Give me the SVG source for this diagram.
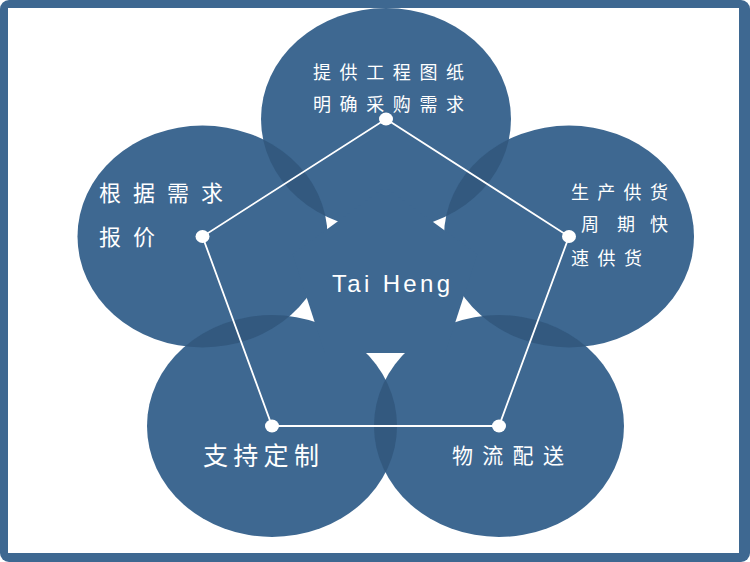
<svg xmlns="http://www.w3.org/2000/svg" width="750" height="562" viewBox="0 0 750 562">
<style>
.blob{fill:#3e6891}
.lens{fill:#33597f}
.lbl{fill:#ffffff;font-family:"Noto Sans CJK SC","Noto Sans",sans-serif}
.dot{fill:#ffffff}
.edge{stroke:#ffffff;stroke-width:1.8;fill:none}
</style>
<defs>
<clipPath id="cTop"><ellipse cx="386" cy="119" rx="125" ry="111"/></clipPath>
<clipPath id="cLeft"><ellipse cx="202.5" cy="236.5" rx="125" ry="111"/></clipPath>
<clipPath id="cRight"><ellipse cx="569" cy="236.5" rx="125" ry="111"/></clipPath>
<clipPath id="cBL"><ellipse cx="272" cy="426" rx="125" ry="111"/></clipPath>
</defs>
<rect x="0" y="0" width="750" height="562" rx="9" fill="#3e6891"/>
<rect x="8" y="8" width="731" height="545" fill="#ffffff"/>
<g id="shapes">
<ellipse class="blob" cx="386" cy="119" rx="125" ry="111"/>
<ellipse class="blob" cx="202.5" cy="236.5" rx="125" ry="111"/>
<ellipse class="blob" cx="569" cy="236.5" rx="125" ry="111"/>
<ellipse class="blob" cx="272" cy="426" rx="125" ry="111"/>
<ellipse class="blob" cx="499" cy="426" rx="125" ry="111"/>
<ellipse class="lens" cx="202.5" cy="236.5" rx="125" ry="111" clip-path="url(#cTop)"/>
<ellipse class="lens" cx="569" cy="236.5" rx="125" ry="111" clip-path="url(#cTop)"/>
<ellipse class="lens" cx="272" cy="426" rx="125" ry="111" clip-path="url(#cLeft)"/>
<ellipse class="lens" cx="499" cy="426" rx="125" ry="111" clip-path="url(#cRight)"/>
<ellipse class="lens" cx="499" cy="426" rx="125" ry="111" clip-path="url(#cBL)"/>
<polygon class="blob" points="385,187 477.4,254.3 445.3,353 324.7,353 292.6,254.3"/>
</g>
<g id="connectors">
<polygon class="edge" points="386,119 569,236.5 499,426 272,426 202.5,236.5"/>
</g>
<g id="center">
<text x="332" y="292" font-family="Liberation Sans, Arial, sans-serif" font-size="24" fill="#ffffff" textLength="118" lengthAdjust="spacing">Tai Heng</text>
</g>
<g id="node-top">
<ellipse class="dot" cx="386" cy="119" rx="7" ry="6.5"/>
<text class="lbl" x="313" y="78.5" font-size="18" letter-spacing="8.6">提供工程图纸</text>
<text class="lbl" x="313" y="110.5" font-size="18" letter-spacing="8.6">明确采购需求</text>
</g>
<g id="node-left">
<ellipse class="dot" cx="202.5" cy="236.5" rx="7" ry="6.5"/>
<text class="lbl" x="99" y="201" font-size="22" letter-spacing="12">根据需求</text>
<text class="lbl" x="99" y="245" font-size="22" letter-spacing="12">报价</text>
</g>
<g id="node-right">
<ellipse class="dot" cx="569" cy="236.5" rx="7" ry="6.5"/>
<text class="lbl" x="571" y="198.5" font-size="18" letter-spacing="8.3">生产供货</text>
<text class="lbl" x="581 599 617 650" y="231" font-size="18">周 期快</text>
<text class="lbl" x="571" y="264.5" font-size="18" letter-spacing="8.5">速供货</text>
</g>
<g id="node-bottom-left">
<ellipse class="dot" cx="272" cy="426" rx="7" ry="6.5"/>
<text class="lbl" x="203" y="464.5" font-size="25" letter-spacing="5.3">支持定制</text>
</g>
<g id="node-bottom-right">
<ellipse class="dot" cx="499" cy="426" rx="7" ry="6.5"/>
<text class="lbl" x="452" y="462.5" font-size="21" letter-spacing="9.3">物流配送</text>
</g>
</svg>
